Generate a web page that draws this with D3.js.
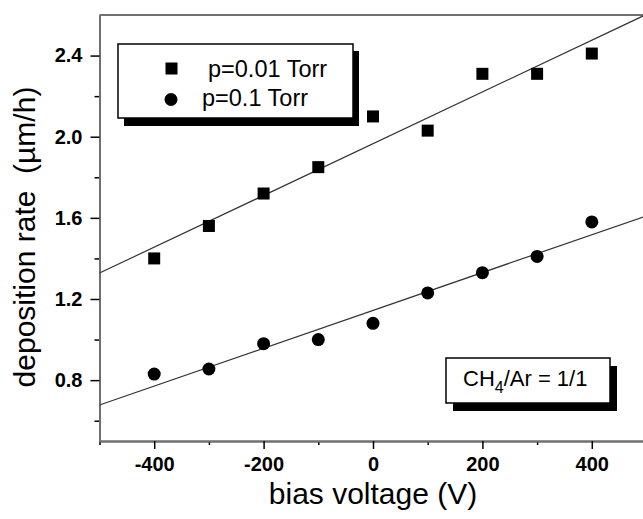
<!DOCTYPE html>
<html>
<head>
<meta charset="utf-8">
<script src="https://cdn.jsdelivr.net/npm/d3@7/dist/d3.min.js"></script>
<style>
body { margin: 0; background: #fff; }
text { font-family: "Liberation Sans", Arial, sans-serif; }
</style>
</head>
<body>
<div id="chart"></div>
<script>
// data
var biasVoltage = [-400, -300, -200, -100, 0, 100, 200, 300, 400];
var rateLowP = [1.40, 1.56, 1.72, 1.85, 2.10, 2.03, 2.31, 2.31, 2.41];   // p=0.01 Torr
var rateHighP = [0.83, 0.855, 0.98, 1.00, 1.08, 1.23, 1.33, 1.41, 1.58]; // p=0.1 Torr
var xMajorTicks = [-400, -200, 0, 200, 400];
var xMinorTicks = [-500, -300, -100, 100, 300, 500];
var yMajorTicks = [0.8, 1.2, 1.6, 2.0, 2.4];
var yMinorTicks = [0.6, 1.0, 1.4, 1.8, 2.2];
var legendLabels = ["p=0.01 Torr", "p=0.1 Torr"];

var w = 643, h = 519;
// plot area edges (don't call these top/left, window.top is taken)
var plotL = 99.5, plotR = 646.5, plotT = 15, plotB = 441;

var svg = d3.select('#chart')
  .append("svg")
  .attr("width", w)
  .attr("height", h);

var x = d3.scaleLinear().domain([-500, 500]).range([plotL, plotR]);
var y = d3.scaleLinear().domain([0.5, 2.6]).range([plotB, plotT]);

svg.append("clipPath").attr("id", "plot")
  .append("rect")
  .attr("x", plotL).attr("y", plotT)
  .attr("width", plotR - plotL).attr("height", plotB - plotT);

// least squares line through each series
function fit(xs, ys){
  var mx = d3.mean(xs), my = d3.mean(ys);
  var sxy = d3.sum(xs, function(d, i){ return (d - mx) * (ys[i] - my); });
  var sxx = d3.sum(xs, function(d){ return (d - mx) * (d - mx); });
  var b = sxy / sxx;
  return function(v){ return my + b * (v - mx); };
}

// frame
svg.append("line")
  .attr("x1", plotL).attr("x2", plotR)
  .attr("y1", plotT).attr("y2", plotT)
  .attr("stroke", "#707070").attr("stroke-width", 2);
svg.append("line")
  .attr("x1", plotR).attr("x2", plotR)
  .attr("y1", plotT).attr("y2", plotB)
  .attr("stroke", "#707070").attr("stroke-width", 2);

// axes
function styleAxis(g){
  g.select(".domain").attr("stroke", "#707070").attr("stroke-width", 2);
  g.selectAll(".tick line").attr("stroke", "#000").attr("stroke-width", 1.5);
  g.selectAll(".tick text")
    .attr("fill", "#000")
    .style("font-size", "20px")
    .style("font-weight", "bold")
    .style("font-family", "'Liberation Sans', Arial, sans-serif");
}

// plain hyphen for negatives like the original
var xFmt = function(d){ return String(d); };
var yFmt = function(d){ return d.toFixed(1); };

svg.append("g")
  .attr("transform", "translate(0," + plotB + ")")
  .call(d3.axisBottom(x).tickValues(xMinorTicks).tickSize(4).tickFormat("").tickSizeOuter(0))
  .call(styleAxis);
svg.append("g")
  .attr("transform", "translate(0," + plotB + ")")
  .call(d3.axisBottom(x).tickValues(xMajorTicks).tickSize(8).tickPadding(8).tickFormat(xFmt).tickSizeOuter(0))
  .call(styleAxis);

svg.append("g")
  .attr("transform", "translate(" + plotL + ",0)")
  .call(d3.axisLeft(y).tickValues(yMinorTicks).tickSize(5).tickFormat("").tickSizeOuter(0))
  .call(styleAxis);
svg.append("g")
  .attr("transform", "translate(" + plotL + ",0)")
  .call(d3.axisLeft(y).tickValues(yMajorTicks).tickSize(9).tickPadding(8).tickFormat(yFmt).tickSizeOuter(0))
  .call(styleAxis);

// axis titles
svg.append("text")
  .attr("x", 373).attr("y", 504)
  .attr("text-anchor", "middle")
  .style("font-size", "30px")
  .text("bias voltage (V)");

svg.append("text")
  .attr("transform", "translate(35,237) rotate(-90)")
  .attr("text-anchor", "middle")
  .style("font-size", "30px")
  .style("white-space", "pre")
  .text("deposition rate  (\u00b5m/h)");

// fit lines
var fits = [fit(biasVoltage, rateLowP), fit(biasVoltage, rateHighP)];
var lineGen = d3.line()
  .x(function(d){ return x(d[0]); })
  .y(function(d){ return y(d[1]); });

fits.forEach(function(f){
  svg.append("path")
    .attr("clip-path", "url(#plot)")
    .attr("d", lineGen(x.domain().map(function(v){ return [v, f(v)]; })))
    .attr("fill", "none")
    .attr("stroke", "#333")
    .attr("stroke-width", 1.2);
});

// points
var sq = 12;
svg.selectAll(".sq")
  .data(biasVoltage)
  .enter().append("rect")
  .attr("class", "sq")
  .attr("x", function(d){ return x(d) - sq / 2; })
  .attr("y", function(d, i){ return y(rateLowP[i]) - sq / 2; })
  .attr("width", sq).attr("height", sq)
  .attr("fill", "#000");

svg.selectAll(".dot")
  .data(biasVoltage)
  .enter().append("circle")
  .attr("class", "dot")
  .attr("cx", function(d){ return x(d); })
  .attr("cy", function(d, i){ return y(rateHighP[i]); })
  .attr("r", 6.5)
  .attr("fill", "#000");

// legend box with drop shadow
svg.append("rect")
  .attr("x", 124).attr("y", 51).attr("width", 235).attr("height", 75)
  .attr("fill", "#000");
svg.append("rect")
  .attr("x", 118).attr("y", 44).attr("width", 235).attr("height", 74)
  .attr("fill", "#fff").attr("stroke", "#000").attr("stroke-width", 1.5);

svg.append("rect")
  .attr("x", 171.5 - sq / 2).attr("y", 68.5 - sq / 2)
  .attr("width", sq).attr("height", sq).attr("fill", "#000");
svg.append("circle")
  .attr("cx", 171).attr("cy", 99.5).attr("r", 6.5).attr("fill", "#000");

svg.append("text")
  .attr("x", 208).attr("y", 77)
  .style("font-size", "23.5px")
  .text(legendLabels[0]);
svg.append("text")
  .attr("x", 202).attr("y", 106)
  .style("font-size", "23.5px")
  .text(legendLabels[1]);

// gas ratio note
svg.append("rect")
  .attr("x", 453).attr("y", 366).attr("width", 164).attr("height", 45)
  .attr("fill", "#000");
svg.append("rect")
  .attr("x", 446).attr("y", 358).attr("width", 164).attr("height", 45)
  .attr("fill", "#fff").attr("stroke", "#000").attr("stroke-width", 1.5);

var note = svg.append("text")
  .attr("x", 463).attr("y", 386)
  .style("font-size", "22px");
note.append("tspan").text("CH");
note.append("tspan").attr("dy", 7).style("font-size", "16px").text("4");
note.append("tspan").attr("dy", -7).text("/Ar = 1/1");
</script>
</body>
</html>
